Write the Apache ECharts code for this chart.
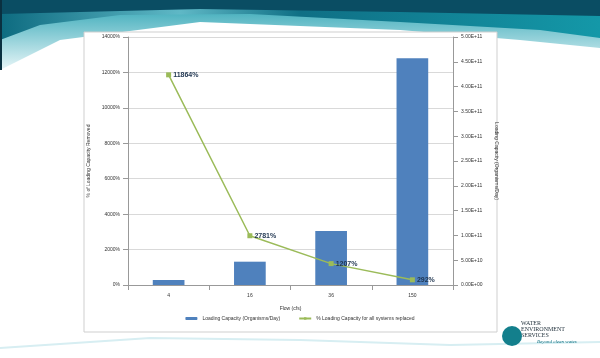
<!DOCTYPE html>
<html><head><meta charset="utf-8">
<script src="https://cdn.jsdelivr.net/npm/echarts@6/dist/echarts.min.js"></script>
<style>html,body{margin:0;padding:0;background:#fff}#c{width:600px;height:358px}</style>
</head><body><div id="c"></div>
<script>
const categories = ['4', '16', '36', '150'];
const loadingCapacity = [1.0e10, 4.7e10, 1.09e11, 4.57e11];
const percentRemoved = [11864, 2781, 1207, 292];

const chart = echarts.init(document.getElementById('c'));
function sci(v){
  if (v === 0) return '0.00E+00';
  const e = Math.floor(Math.log10(v));
  const m = v / Math.pow(10, e);
  return m.toFixed(2) + 'E+' + (e < 10 ? '0' + e : e);
}
chart.setOption({
  animation: false,
  backgroundColor: '#ffffff',
  graphic: [
    {type:'rect', z:-10, shape:{x:0,y:0,width:600,height:358}, style:{fill:'#ffffff'}},
    {type:'polygon', z:-9, shape:{points:[[0,0],[600,0],[600,48],[520,40],[400,30],[200,22],[60,40],[0,70]]},
      style:{fill:new echarts.graphic.LinearGradient(0,0,0,1,[{offset:0,color:'#2aa3b3'},{offset:1,color:'#e8f6f8'}])}},
    {type:'polygon', z:-8, shape:{points:[[0,0],[600,0],[600,38],[540,30],[400,22],[250,14],[120,15],[40,25],[0,40]]},
      style:{fill:new echarts.graphic.LinearGradient(0,0,1,0,[{offset:0,color:'#0d6b80'},{offset:0.3,color:'#5fb8c6'},{offset:0.5,color:'#0f6f85'},{offset:1,color:'#1498a8'}])}},
    {type:'polygon', z:-7, shape:{points:[[0,0],[600,0],[600,16],[400,12],[200,9],[0,14]]}, style:{fill:'#0a4d63'}},
    {type:'rect', z:-6, shape:{x:0,y:0,width:2,height:70}, style:{fill:'#0a3040'}},
    {type:'rect', z:-5, shape:{x:84,y:32,width:413,height:300}, style:{fill:'#ffffff',stroke:'#cfcfcf',lineWidth:1}},
    {type:'polyline', z:-6, shape:{points:[[0,348],[150,338],[300,340],[450,345],[600,342]]}, style:{stroke:'#d7eef2',lineWidth:2,fill:null}},
    {type:'text', left:521, top:320, style:{text:'WATER\nENVIRONMENT\nSERVICES', fill:'#1f2f3a', fontSize:6, lineHeight:6, fontFamily:'Liberation Serif'}},
    {type:'text', left:537, top:339, style:{text:'Beyond clean water.', fill:'#0a6f80', fontSize:5, fontStyle:'italic', fontFamily:'Liberation Serif'}},
    {type:'circle', shape:{cx:512,cy:336,r:10}, style:{fill:'#137f8c'}}
  ],
  grid: {left:128, right:147, top:37, bottom:73},
  legend: {
    bottom: 32, left: 'center', itemWidth: 12, itemHeight: 3, itemGap: 18,
    textStyle: {fontSize: 5, color: '#333', fontFamily: 'Liberation Sans'},
    data: ['Loading Capacity (Organisms/Day)', '% Loading Capacity for all systems replaced']
  },
  xAxis: {
    type: 'category', data: categories,
    name: 'Flow (cfs)', nameLocation: 'middle', nameGap: 21,
    nameTextStyle: {fontSize: 5, color: '#333'},
    axisLine: {lineStyle: {color: '#999'}},
    axisTick: {show: true, lineStyle: {color: '#999'}},
    axisLabel: {fontSize: 5, color: '#333', margin: 8}
  },
  yAxis: [
    {type: 'value', min: 0, max: 14000, interval: 2000,
     name: '% of Loading Capacity Removed', nameLocation: 'middle', nameGap: 30, nameRotate: 90,
     nameTextStyle: {fontSize: 5, color: '#333'},
     axisLine: {show: true, lineStyle: {color: '#999'}},
     axisTick: {show: true, lineStyle: {color: '#999'}},
     splitLine: {lineStyle: {color: '#d9d9d9'}},
     axisLabel: {fontSize: 5, color: '#333', formatter: v => v + '%'}},
    {type: 'value', min: 0, max: 5e11, interval: 5e10, position: 'right',
     name: 'Loading Capacity (Organisms/Day)', nameLocation: 'middle', nameGap: 38, nameRotate: -90,
     nameTextStyle: {fontSize: 5, color: '#333'},
     axisLine: {show: true, lineStyle: {color: '#999'}},
     axisTick: {show: true, lineStyle: {color: '#999'}},
     splitLine: {show: false},
     axisLabel: {fontSize: 5, color: '#333', formatter: sci}}
  ],
  series: [
    {name: 'Loading Capacity (Organisms/Day)', type: 'bar', yAxisIndex: 1, data: loadingCapacity,
     barWidth: '39%', itemStyle: {color: '#4F81BD'}},
    {name: '% Loading Capacity for all systems replaced', type: 'line', yAxisIndex: 0, data: percentRemoved,
     symbol: 'rect', symbolSize: 5, itemStyle: {color: '#9BBB59'}, lineStyle: {color: '#9BBB59', width: 1.5},
     label: {show: true, position: 'right', distance: 2, formatter: p => p.value + '%', fontSize: 7, fontWeight: 'bold', color: '#1f3550'}}
  ]
});
</script></body></html>
